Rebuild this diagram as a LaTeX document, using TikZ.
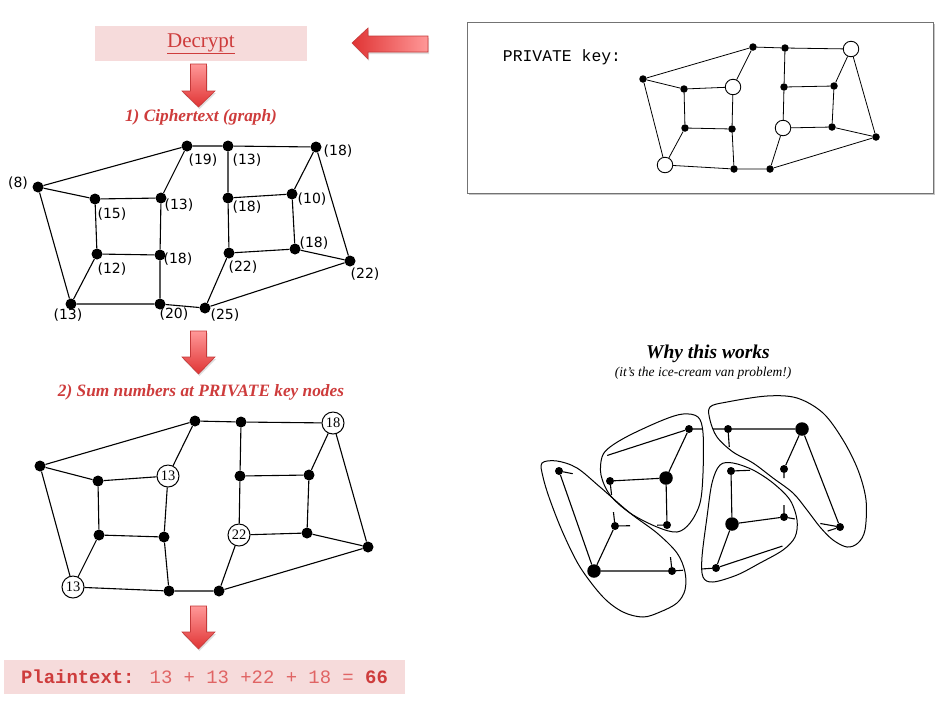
\documentclass[tikz,border=0pt]{standalone}
\usepackage{fontspec}
\setmainfont{Liberation Serif}
\newfontfamily\monofont{Liberation Mono}
\newfontfamily\labelfont{DejaVu Sans}
\usetikzlibrary{calc,shadows}

\definecolor{keyred}{RGB}{206,60,60}
\definecolor{softred}{RGB}{224,100,100}
\definecolor{boxpink}{RGB}{246,219,219}
\definecolor{arrowlight}{RGB}{255,152,152}
\definecolor{arrowdark}{RGB}{224,52,52}
\definecolor{arrowedge}{RGB}{196,58,58}

\begin{document}
\begin{tikzpicture}[x=1pt,y=-1pt,
  edge/.style={line width=1.1pt},
  dot/.style={circle,fill=black,inner sep=0pt,minimum size=11pt},
  num/.style={font=\labelfont\fontsize{14}{15}\selectfont,inner sep=0pt},
  keydot/.style={circle,fill=black,inner sep=0pt,minimum size=7.5pt},
  keyring/.style={circle,draw,fill=white,line width=0.9pt,inner sep=0pt,minimum size=15.5pt},
  sumring/.style={circle,draw,fill=white,line width=1pt,inner sep=0pt,minimum size=22pt,
    font=\fontsize{14.5}{15}\selectfont},
  vsmall/.style={circle,fill=black,inner sep=0pt,minimum size=8pt},
  vbig/.style={circle,fill=black,inner sep=0pt,minimum size=13.5pt},
  loop/.style={line width=1pt},
  redarrow/.style={draw=arrowedge,line width=0.6pt,
    drop shadow={opacity=0.25,shadow xshift=1pt,shadow yshift=-2pt}},
  heading/.style={text=keyred,font=\bfseries\itshape\fontsize{17.3}{18}\selectfont,inner sep=0pt},
]
\useasboundingbox (0,0) rectangle (941,716);
\fill[white] (0,0) rectangle (941,716);

% ---------- Decrypt banner and arrows ----------
\node[fill=boxpink,minimum width=212pt,minimum height=35pt,inner sep=0pt,
      text=keyred,font=\fontsize{21}{22}\selectfont] (decrypt) at (201,43.5) {\underline{Decrypt}};

% arrow pointing from the key box to the banner
\shade[redarrow,left color=arrowdark,right color=arrowlight]
  (352,43) -- (368,28) -- (368,36) -- (428,36) -- (428,52) -- (368,52) -- (368,59) -- cycle;

% downward arrows
\shade[redarrow,top color=arrowlight,bottom color=arrowdark]
  (190.5,64) -- (206.5,64) -- (206.5,91) -- (215,91) -- (198.5,107) -- (182,91) -- (190.5,91) -- cycle;
\shade[redarrow,top color=arrowlight,bottom color=arrowdark]
  (190.5,331) -- (206.5,331) -- (206.5,357) -- (215,357) -- (198.5,374) -- (182,357) -- (190.5,357) -- cycle;
\shade[redarrow,top color=arrowlight,bottom color=arrowdark]
  (190.5,606) -- (206.5,606) -- (206.5,632) -- (215,632) -- (198.5,649) -- (182,632) -- (190.5,632) -- cycle;

\node[heading] (step1) at (201,117) {1) Ciphertext (graph)};
\node[heading] (step2) at (201,392) {2) Sum numbers at PRIVATE key nodes};

% ---------- Ciphertext graph ----------
\node[dot] (c8)   at (38,187) {};
\node[dot] (c19)  at (187,146) {};
\node[dot] (c13a) at (228,146) {};
\node[dot] (c18a) at (316,147) {};
\node[dot] (c15)  at (95,199) {};
\node[dot] (c13b) at (161,198) {};
\node[dot] (c18b) at (228,198) {};
\node[dot] (c10)  at (292,194) {};
\node[dot] (c12)  at (97,254) {};
\node[dot] (c18c) at (160,255) {};
\node[dot] (c22a) at (229,253) {};
\node[dot] (c18d) at (295,249) {};
\node[dot] (c22b) at (350,261) {};
\node[dot] (c13c) at (71,304) {};
\node[dot] (c20)  at (160,304) {};
\node[dot] (c25)  at (205,308) {};

\draw[edge] (c8)--(c19) (c19)--(c13a) (c13a)--(c18a)
  (c8)--(c15) (c8)--(c13c) (c15)--(c13b) (c19)--(c13b)
  (c15)--(c12) (c13b)--(c18c) (c12)--(c18c) (c12)--(c13c)
  (c18c)--(c20) (c13c)--(c20) (c20)--(c25)
  (c13a)--(c18b) (c18b)--(c10) (c10)--(c18a) (c18b)--(c22a)
  (c10)--(c18d) (c22a)--(c18d) (c22a)--(c25) (c18d)--(c22b)
  (c18a)--(c22b) (c25)--(c22b);

\node[num] (l8)   at (18,183) {(8)};
\node[num] (l19)  at (203,160) {(19)};
\node[num] (l13a) at (247,160) {(13)};
\node[num] (l18a) at (338,151) {(18)};
\node[num] (l15)  at (112,214) {(15)};
\node[num] (l13b) at (179,205) {(13)};
\node[num] (l18b) at (247,207) {(18)};
\node[num] (l10)  at (312,199) {(10)};
\node[num] (l12)  at (112,269) {(12)};
\node[num] (l18c) at (178,259) {(18)};
\node[num] (l22a) at (243,267) {(22)};
\node[num] (l18d) at (314,243) {(18)};
\node[num] (l22b) at (365,274) {(22)};
\node[num] (l13c) at (68,315) {(13)};
\node[num] (l20)  at (174,314) {(20)};
\node[num] (l25)  at (225,315) {(25)};

% ---------- Summing graph ----------
\node[dot] (s8)   at (40,466) {};
\node[dot] (s19)  at (195,421) {};
\node[dot] (s13a) at (241,422) {};
\node[sumring] (s18a) at (333,423) {18};
\node[dot] (s15)  at (98,481) {};
\node[sumring] (s13b) at (168,476) {13};
\node[dot] (s18b) at (240,476) {};
\node[dot] (s10)  at (309,475) {};
\node[dot] (s12)  at (99,535) {};
\node[dot] (s18c) at (164,537) {};
\node[sumring] (s22a) at (239,535) {22};
\node[dot] (s18d) at (307,533) {};
\node[dot] (s22b) at (368,547) {};
\node[sumring] (s13c) at (73,587) {13};
\node[dot] (s20)  at (169,591) {};
\node[dot] (s25)  at (219,591) {};

\draw[edge] (s8)--(s19) (s19)--(s13a) (s13a)--(s18a)
  (s8)--(s15) (s8)--(s13c) (s15)--(s13b) (s19)--(s13b)
  (s15)--(s12) (s13b)--(s18c) (s12)--(s18c) (s12)--(s13c)
  (s18c)--(s20) (s13c)--(s20) (s20)--(s25)
  (s13a)--(s18b) (s18b)--(s10) (s10)--(s18a) (s18b)--(s22a)
  (s10)--(s18d) (s22a)--(s18d) (s22a)--(s25) (s18d)--(s22b)
  (s18a)--(s22b) (s25)--(s22b);

% ---------- Plaintext result ----------
\node[fill=boxpink,minimum width=401pt,minimum height=34pt,inner sep=0pt,text=keyred,
      font=\monofont\fontsize{18.9}{20}\selectfont] (plain) at (204.5,677)
  {\textbf{Plaintext:} \textcolor{softred}{13 + 13 +22 + 18 =} \textbf{66}};

% ---------- Private key box ----------
\node[draw=black!55,fill=white,line width=0.8pt,minimum width=466pt,minimum height=171pt,
      inner sep=0pt,anchor=north west,
      drop shadow={opacity=0.45,shadow xshift=1.5pt,shadow yshift=-2pt}] (keybox) at (467,22) {};
\node[font=\monofont\fontsize{16.4}{18}\selectfont,inner sep=0pt] (keytitle) at (562,57) {PRIVATE key:};

\node[keydot]  (p8)   at (643,79) {};
\node[keydot]  (p19)  at (753,47) {};
\node[keydot]  (p13a) at (785,48) {};
\node[keyring] (p18a) at (851,49) {};
\node[keydot]  (p15)  at (684,89) {};
\node[keyring] (p13b) at (733,87) {};
\node[keydot]  (p18b) at (784,87) {};
\node[keydot]  (p10)  at (834,86) {};
\node[keydot]  (p12)  at (685,128) {};
\node[keydot]  (p18c) at (732,129) {};
\node[keyring] (p22a) at (783,128) {};
\node[keydot]  (p18d) at (832,127) {};
\node[keydot]  (p22b) at (876,137) {};
\node[keyring] (p13c) at (665,165) {};
\node[keydot]  (p20)  at (734,169) {};
\node[keydot]  (p25)  at (770,169) {};

\draw[line width=0.8pt] (p8)--(p19) (p19)--(p13a) (p13a)--(p18a)
  (p8)--(p15) (p8)--(p13c) (p15)--(p13b) (p19)--(p13b)
  (p15)--(p12) (p13b)--(p18c) (p12)--(p18c) (p12)--(p13c)
  (p18c)--(p20) (p13c)--(p20) (p20)--(p25)
  (p13a)--(p18b) (p18b)--(p10) (p10)--(p18a) (p18b)--(p22a)
  (p10)--(p18d) (p22a)--(p18d) (p22a)--(p25) (p18d)--(p22b)
  (p18a)--(p22b) (p25)--(p22b);

% ---------- Why this works ----------
\node[font=\bfseries\itshape\fontsize{19.5}{21}\selectfont,inner sep=0pt] (why) at (708,354) {Why this works};
\node[font=\itshape\fontsize{13.5}{15}\selectfont,inner sep=0pt] (whysub) at (703,373) {(it's the ice-cream van problem!)};

% nodes, grouped by the van that serves them
\node[vsmall] (vA) at (559,471) {};
\node[vsmall] (vF) at (615,526) {};
\node[vbig]   (vG) at (594,571) {};
\node[vsmall] (vH) at (672,571) {};

\node[vsmall] (vB) at (689,429) {};
\node[vsmall] (vC) at (610,481) {};
\node[vbig]   (vD) at (666,478) {};
\node[vsmall] (vE) at (667,525) {};

\node[vsmall] (vI) at (728,429) {};
\node[vbig]   (vJ) at (802,429) {};
\node[vsmall] (vK) at (784,469) {};
\node[vsmall] (vO) at (840,527) {};

\node[vsmall] (vL) at (731,471) {};
\node[vbig]   (vM) at (732,524) {};
\node[vsmall] (vN) at (784,517) {};
\node[vsmall] (vP) at (716,568) {};

% roads inside each region
\draw[edge] (vA)--(vG) (vG)--(vF) (vG)--(vH)
  (vB)--(vD) (vC)--(vD) (vD)--(vE)
  (vI)--(vJ) (vJ)--(vK) (vJ)--(vO)
  (vL)--(vM) (vM)--(vN) (vM)--(vP);

% roads between regions, cut at the region borders
\draw[edge]
  (vA)--($(vA)!14pt!(vC)$)
  (vB)--($(vB)!86pt!(vA)$)
  (vB)--($(vB)!13pt!(vI)$)
  (vI)--($(vI)!15pt!(vB)$)
  (vC)--($(vC)!14pt!(vF)$)
  (vF)--($(vF)!14pt!(vC)$)
  (vF)--($(vF)!15pt!(vE)$)
  (vE)--($(vE)!10pt!(vF)$)
  (vH)--($(vH)!14pt!(vE)$)
  (vH)--($(vH)!11pt!(vP)$)
  (vP)--($(vP)!14pt!(vH)$)
  (vI)--($(vI)!18pt!(vL)$)
  (vL)--($(vL)!19pt!(vK)$)
  (vK)--($(vK)!9pt!(vN)$)
  (vN)--($(vN)!12pt!(vK)$)
  (vN)--($(vN)!11pt!(vO)$)
  (vO)--($(vO)!20pt!(vN)$)
  (vO)--($(vO)!13pt!(vP)$)
  (vP)--($(vP)!70pt!(vO)$);

% region borders
\draw[loop] plot[smooth cycle,tension=0.55] coordinates {
  (542,463) (557,461) (577,468) (600,487) (630,513) (657,533) (677,553) (685,572)
  (685,590) (677,603) (660,612) (643,617) (623,612) (603,597) (580,567) (563,533)
  (550,500) (543,477)};
\draw[loop] plot[smooth cycle,tension=0.55] coordinates {
  (683,414) (698,417) (703,433) (703,473) (700,503) (690,523) (677,532) (657,527)
  (630,513) (610,495) (601,475) (602,457) (610,447) (630,435) (663,420)};
\draw[loop] plot[smooth cycle,tension=0.55] coordinates {
  (710,407) (727,402) (767,396) (797,398) (823,413) (843,440) (858,470) (866,500)
  (865,530) (858,543) (847,547) (833,540) (820,527) (807,510) (793,493) (773,478)
  (753,463) (733,452) (717,437) (710,420)};
\draw[loop] plot[smooth cycle,tension=0.55] coordinates {
  (720,465) (733,463) (753,470) (773,483) (790,500) (797,520) (795,537) (783,550)
  (760,563) (737,575) (713,582) (703,577) (702,557) (707,517) (712,483)};
\end{tikzpicture}
\end{document}
